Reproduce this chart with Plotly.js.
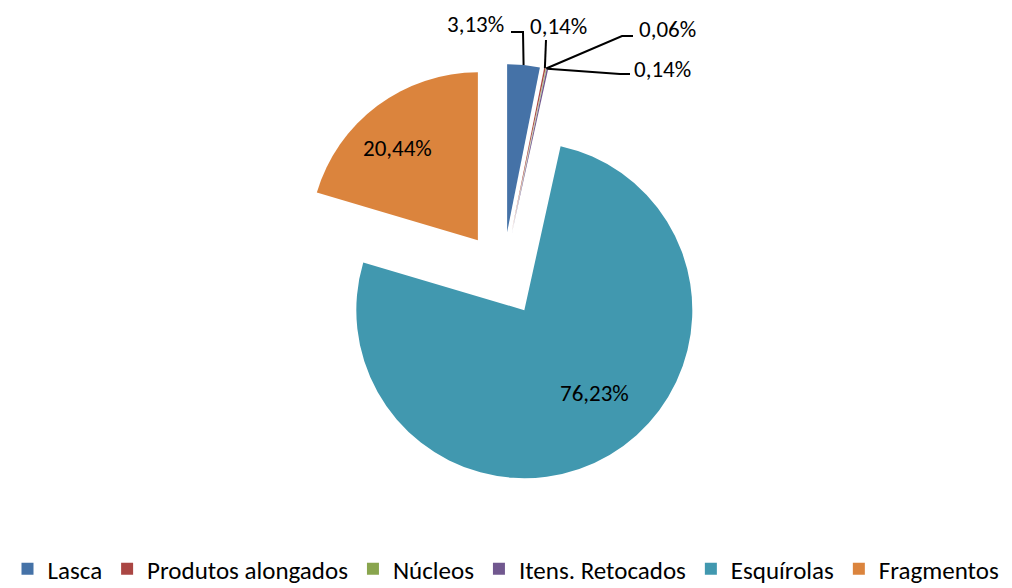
<!DOCTYPE html>
<html><head><meta charset="utf-8">
<script src="https://cdn.plot.ly/plotly-3.0.1.min.js"></script>
<style>html,body{margin:0;padding:0;background:#fff}#chart{width:1012px;height:588px}</style>
</head><body><div id="chart"></div>
<script>
var categories = ['Lasca', 'Produtos alongados', 'Núcleos', 'Itens. Retocados', 'Esquírolas', 'Fragmentos'];
var percentValues = [3.13, 0.14, 0.06, 0.14, 76.23, 20.44];
var sliceColors = ['#4572A7', '#AA4643', '#89A54E', '#71588F', '#4198AF', '#DB843D'];

var W = 1012, H = 588;
var FONT = 'Carlito, "Liberation Sans Narrow", "Open Sans", sans-serif';
var pull = 0.25;
var dom = {x: [293 / W, 713 / W], y: [1 - 484 / H, 1 - 64 / H]};

function fmt(v) { return v.toFixed(2).replace('.', ',') + '%'; }
var texts = percentValues.map(fmt);

// geometry of the pie (pixels) used for leader lines of small slices
var cx = (dom.x[0] + dom.x[1]) / 2 * W;
var cy = (1 - (dom.y[0] + dom.y[1]) / 2) * H;
var r = (dom.y[1] - dom.y[0]) * H / 2 / (1 + pull);
var total = percentValues.reduce(function (a, b) { return a + b; }, 0);
var cum = 0, tips = [];
percentValues.forEach(function (v) {
  var mid = (cum + v / 2) / total * 2 * Math.PI;
  cum += v;
  var R = r * (1 + pull);
  tips.push([cx + R * Math.sin(mid), cy - R * Math.cos(mid)]);
});
function px(x) { return x / W; }
function py(y) { return 1 - y / H; }

// data label placements (pixels)
var labelPlacements = [
  {i: 0, path: [[523, 32], [511, 32]], tx: 506, ty: 24, xa: 'right'},
  {i: 1, path: [[546, 40]], tx: 558, ty: 26, xa: 'center'},
  {i: 2, path: [[622, 36], [633, 36]], tx: 637, ty: 29, xa: 'left'},
  {i: 3, path: [[620, 74], [630, 74]], tx: 632, ty: 69, xa: 'left'},
  {i: 4, path: null, tx: 594, ty: 393, xa: 'center'},
  {i: 5, path: null, tx: 397, ty: 148, xa: 'center'}
];
var shapes = [], annotations = [];
labelPlacements.forEach(function (s) {
  if (s.path) {
    var t = tips[s.i];
    var d = 'M' + px(t[0]) + ',' + py(t[1]);
    s.path.forEach(function (p) { d += ' L' + px(p[0]) + ',' + py(p[1]); });
    shapes.push({type: 'path', xref: 'paper', yref: 'paper', path: d, line: {color: '#000', width: 2}});
  }
  annotations.push({xref: 'paper', yref: 'paper', x: px(s.tx), y: py(s.ty), xanchor: s.xa, yanchor: 'middle',
    text: texts[s.i], showarrow: false, font: {family: FONT, size: 23, color: '#000'}});
});

var trace = {
  type: 'pie',
  labels: categories,
  values: percentValues,
  text: texts,
  textinfo: 'none',
  marker: {colors: sliceColors, line: {width: 0}},
  pull: pull,
  sort: false,
  direction: 'clockwise',
  rotation: 0,
  domain: dom,
  automargin: false,
  hoverinfo: 'label+text'
};

var layout = {
  width: W, height: H,
  margin: {l: 0, r: 0, t: 0, b: 0, autoexpand: false},
  paper_bgcolor: '#fff',
  showlegend: true,
  legend: {orientation: 'h', xref: 'container', yref: 'container', x: 0.5, xanchor: 'center',
    y: 1 - 569 / H, yanchor: 'middle',
    font: {family: FONT, size: 25, color: '#000'}, itemwidth: 30, traceorder: 'normal'},
  shapes: shapes,
  annotations: annotations
};
Plotly.newPlot('chart', [trace], layout, {displayModeBar: false});
</script></body></html>
